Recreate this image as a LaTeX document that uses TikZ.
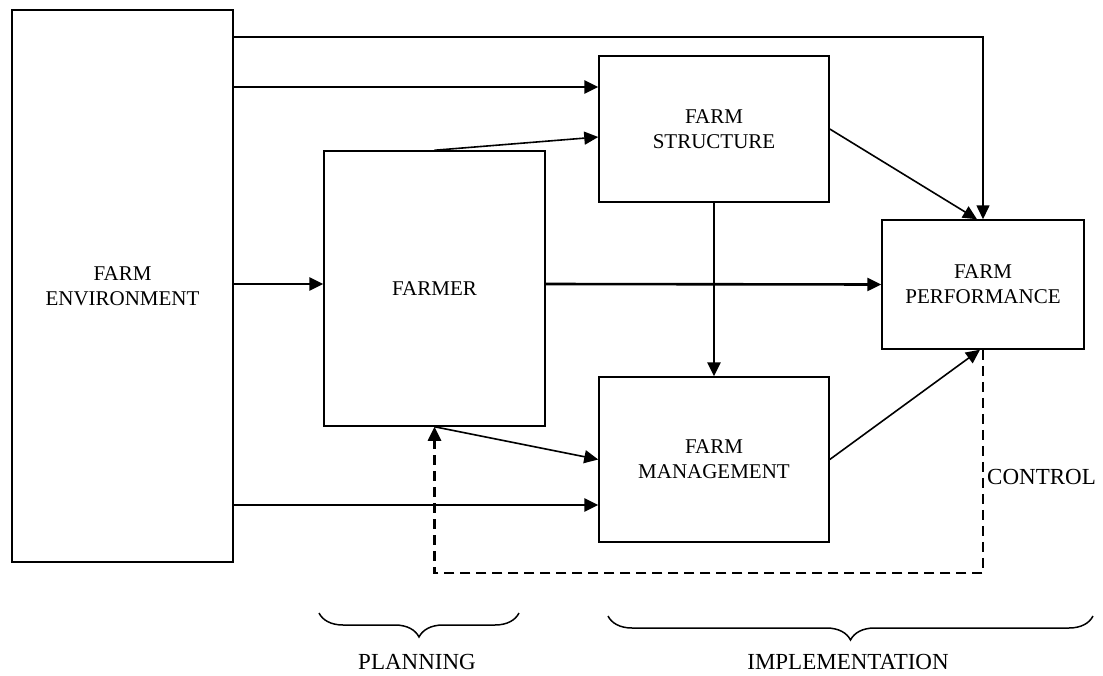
\documentclass[tikz,border=0pt]{standalone}
\usepackage{fontspec}
\setmainfont{Liberation Serif}
\usetikzlibrary{arrows.meta,calc,decorations.pathreplacing}
\begin{document}
\begin{tikzpicture}[x=1pt,y=-1pt,
  box/.style={draw,line width=1.5pt,inner sep=0pt,align=center,font=\fontsize{21}{25}\selectfont},
  thickarrow/.style={line width=2.6pt,-{Triangle[length=14pt,width=13pt]}},
  thinarrow/.style={line width=1.6pt,-{Triangle[length=14pt,width=13pt]}},
  dasharrow/.style={line width=2.6pt,dash pattern=on 10pt off 6pt,-{Triangle[length=14pt,width=13pt]}},
  lbl/.style={font=\fontsize{23}{27}\selectfont,inner sep=0pt},
  bracestyle/.style={line width=1.5pt,decorate,decoration={brace,mirror,amplitude=24pt}}]
\useasboundingbox (0,0) rectangle (1103,675);
% boxes
\node[box,minimum width=221pt,minimum height=552pt] (env) at (122.5,286) {FARM\\ENVIRONMENT};
\node[box,minimum width=221pt,minimum height=275pt] (farmer) at (434.5,288.5) {FARMER};
\node[box,minimum width=230pt,minimum height=146pt] (struct) at (714,129) {FARM\\STRUCTURE};
\node[box,minimum width=230pt,minimum height=165pt] (mgmt) at (714,459.5) {FARM\\MANAGEMENT};
\node[box,minimum width=202pt,minimum height=129pt] (perf) at (983,284.5) {FARM\\PERFORMANCE};
% helper levels
\coordinate (y37) at (0,37);
\coordinate (y87) at (0,87);
\coordinate (y284) at (0,284);
\coordinate (y505) at (0,505);
\coordinate (y573) at (0,573);
% connectors
\draw[thinarrow] (env.east |- y37) -| (perf.north);
\draw[thickarrow] (env.east |- y87) -- (struct.west |- y87);
\draw[thinarrow] (farmer.north) -- ($(struct.west)+(0,8)$);
\draw[thickarrow] (env.east |- y284) -- (farmer.west |- y284);
\draw[thickarrow] (farmer.east |- y284) -- (perf.west);
\draw[thickarrow] (struct.south) -- (mgmt.north);
\draw[thinarrow] (struct.east) -- ($(perf.north)+(-6,0)$);
\draw[thinarrow] (farmer.south) -- (mgmt.west);
\draw[thickarrow] (env.east |- y505) -- (mgmt.west |- y505);
\draw[thinarrow] (mgmt.east) -- ($(perf.south)+(-3,0)$);
\draw[dasharrow] (perf.south) -- (perf.south |- y573) -| (farmer.south);
% labels
\node[lbl,anchor=west] (control) at (987,477) {CONTROL};
\coordinate (pl) at (319,613);
\coordinate (pr) at (519,613);
\coordinate (il) at (608,616);
\coordinate (ir) at (1093,616);
\draw[bracestyle] (pl) -- (pr);
\draw[bracestyle] (il) -- (ir);
\node[lbl] (planning) at (417,662) {PLANNING};
\node[lbl] (impl) at (848,662) {IMPLEMENTATION};
\end{tikzpicture}
\end{document}
